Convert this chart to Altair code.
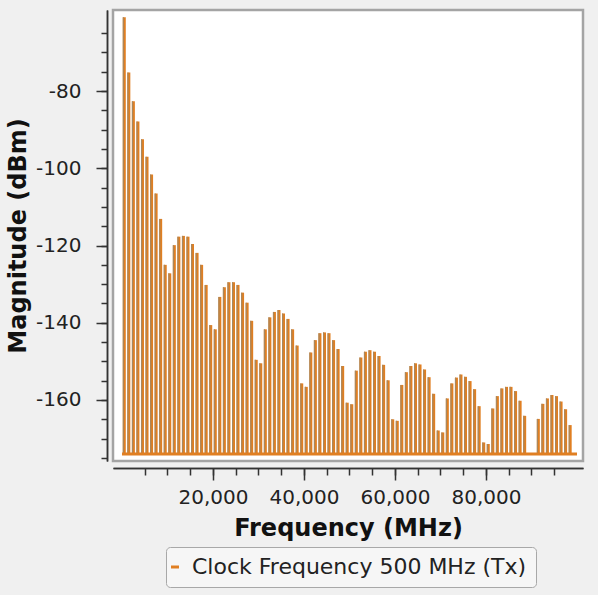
import altair as alt
import pandas as pd

# Harmonic frequencies (MHz)
freq_mhz = [
    500, 1500, 2500, 3500, 4500, 5500, 6500, 7500, 8500, 9500,
    10500, 11500, 12500, 13500, 14500, 15500, 16500, 17500, 18500, 19500,
    20500, 21500, 22500, 23500, 24500, 25500, 26500, 27500, 28500, 29500,
    30500, 31500, 32500, 33500, 34500, 35500, 36500, 37500, 38500, 39500,
    40500, 41500, 42500, 43500, 44500, 45500, 46500, 47500, 48500, 49500,
    50500, 51500, 52500, 53500, 54500, 55500, 56500, 57500, 58500, 59500,
    60500, 61500, 62500, 63500, 64500, 65500, 66500, 67500, 68500, 69500,
    70500, 71500, 72500, 73500, 74500, 75500, 76500, 77500, 78500, 79500,
    80500, 81500, 82500, 83500, 84500, 85500, 86500, 87500, 88500, 89500,
    90500, 91500, 92500, 93500, 94500, 95500, 96500, 97500, 98500, 99500,
]

# Magnitude of each harmonic (dBm)
magnitude_dbm = [
    -60.9, -75.2, -82.6, -87.9, -92.5, -97.0, -101.6, -106.5, -113.1, -125.0,
    -127.2, -119.9, -117.7, -117.5, -117.7, -119.6, -121.9, -125.0, -130.2, -140.6,
    -141.7, -133.3, -130.8, -129.5, -129.5, -130.2, -132.2, -134.8, -139.5, -149.6,
    -150.5, -141.7, -138.6, -137.2, -136.7, -137.6, -139.0, -141.7, -145.9, -155.7,
    -156.6, -147.7, -144.5, -142.7, -142.5, -142.7, -144.5, -146.8, -151.2, -160.7,
    -161.1, -152.4, -149.0, -147.5, -147.1, -147.5, -148.6, -150.9, -154.9, -165.0,
    -165.4, -156.1, -152.8, -151.2, -150.5, -150.8, -152.1, -154.1, -158.4, -167.9,
    -168.4, -159.6, -155.7, -154.2, -153.4, -154.0, -155.1, -157.2, -161.6, -171.0,
    -171.4, -162.2, -159.0, -157.0, -156.6, -156.6, -157.7, -160.2, -164.1, -174.0,
    -174.0, -164.9, -161.0, -159.6, -158.7, -159.0, -160.4, -162.4, -166.5, -174.0,
]

FLOOR_DBM = -174.0
SPAN_MHZ = [0, 100000]
SERIES = "Clock Frequency 500 MHz (Tx)"

x_major = [20000, 40000, 60000, 80000]
x_minor = [5000, 10000, 15000, 20000, 25000, 30000, 35000, 40000, 45000,
           50000, 55000, 60000, 65000, 70000, 75000, 80000, 85000, 90000, 95000]
y_major = [-160, -140, -120, -100, -80]
y_minor = [-175, -170, -165, -160, -155, -150, -145, -140, -135, -130, -125,
           -120, -115, -110, -105, -100, -95, -90, -85, -80, -75, -70, -65]

ORANGE = "#e07f22"
SHADE = "#a8885f"
FONT = "DejaVu Sans"

df = pd.DataFrame({"freq": freq_mhz, "mag": magnitude_dbm})
df["floor"] = FLOOR_DBM
df["series"] = SERIES

base_df = pd.DataFrame({"x0": [SPAN_MHZ[0]], "x1": [SPAN_MHZ[1]], "y": [FLOOR_DBM]})

X_DOMAIN = [-1978, 101319]
Y_DOMAIN = [-175.8, -59.0]

bars = alt.Chart(df).mark_rule(strokeWidth=3).encode(
    x=alt.X(
        "freq:Q",
        scale=alt.Scale(domain=X_DOMAIN, nice=False, zero=False),
        title="Frequency (MHz)",
        axis=alt.Axis(
            values=x_major,
            tickSize=12,
            labelExpr="format(datum.value, ',')",
            labelPadding=7,
            offset=7,
            grid=False,
            titlePadding=9,
            orient="bottom",
        ),
    ),
    y=alt.Y(
        "mag:Q",
        scale=alt.Scale(domain=Y_DOMAIN, nice=False, zero=False),
        title="Magnitude (dBm)",
        axis=alt.Axis(
            values=y_major,
            tickSize=11,
            labelExpr="'' + datum.value",
            labelPadding=15,
            offset=6,
            grid=False,
            titlePadding=5,
            orient="left",
        ),
    ),
    y2="floor:Q",
    color=alt.Color(
        "series:N",
        scale=alt.Scale(range=[ORANGE]),
        legend=alt.Legend(
            title=None,
            orient="none",
            legendX=53,
            legendY=537,
            padding=9,
            fillColor="#f6f6f6",
            strokeColor="#a8a8a8",
            cornerRadius=4,
            symbolType="stroke",
            symbolSize=64,
            symbolStrokeWidth=3,
            symbolOffset=-11,
            labelFont=FONT,
            labelFontSize=22,
            labelColor="#222222",
            labelOffset=6,
            labelLimit=600,
        ),
    ),
)

shade = alt.Chart(df).mark_rule(strokeWidth=1.2, color=SHADE, xOffset=-0.9).encode(
    x=alt.X(
        "freq:Q",
        scale=alt.Scale(domain=X_DOMAIN, nice=False, zero=False),
        axis=alt.Axis(
            values=x_minor, tickSize=7, labels=False, title=None,
            offset=7, grid=False, orient="bottom",
        ),
    ),
    y=alt.Y(
        "mag:Q",
        scale=alt.Scale(domain=Y_DOMAIN, nice=False, zero=False),
        axis=alt.Axis(
            values=y_minor, tickSize=6, labels=False, title=None,
            offset=6, grid=False, orient="left",
        ),
    ),
    y2="floor:Q",
)

baseline = alt.Chart(base_df).mark_rule(strokeWidth=3, color=ORANGE).encode(
    x=alt.X("x0:Q", scale=alt.Scale(domain=X_DOMAIN, nice=False, zero=False), axis=None),
    x2="x1:Q",
    y=alt.Y("y:Q", scale=alt.Scale(domain=Y_DOMAIN, nice=False, zero=False), axis=None),
)

chart = (
    alt.layer(bars, shade, baseline)
    .resolve_axis(x="independent", y="independent")
    .properties(
        width=470,
        height=451,
        autosize=alt.AutoSizeParams(type="none"),
        padding={"left": 113, "top": 10, "right": 15, "bottom": 134},
        background="#f0f0f0",
    )
    .configure_view(stroke="#a4a4a4", strokeWidth=2.5, fill="white")
    .configure_axis(
        labelFont=FONT,
        labelFontSize=20,
        labelColor="#222222",
        titleFont=FONT,
        titleFontSize=24,
        titleFontWeight="bold",
        titleColor="#111111",
        domainColor="#333333",
        domainWidth=1.5,
        tickColor="#333333",
        tickWidth=1.5,
    )
)

chart.save("out.html", embed_options={"renderer": "svg", "actions": False})
